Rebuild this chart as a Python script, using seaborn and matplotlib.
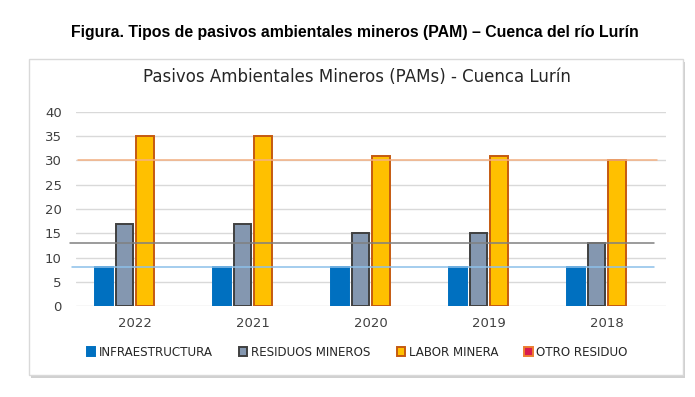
import matplotlib
matplotlib.use("Agg")
import matplotlib.pyplot as plt
from matplotlib.patches import Rectangle
import pandas as pd
import seaborn as sns

years = ["2022", "2021", "2020", "2019", "2018"]
infraestructura = [8, 8, 8, 8, 8]
residuos_mineros = [17, 17, 15, 15, 13]
labor_minera = [35, 35, 31, 31, 30]
otro_residuo = [0, 0, 0, 0, 0]
series_names = ["INFRAESTRUCTURA", "RESIDUOS MINEROS", "LABOR MINERA", "OTRO RESIDUO"]
ref_lines = [30, 13, 8]
yticks = [0, 5, 10, 15, 20, 25, 30, 35, 40]

fill_colors = ["#0070C0", "#8497B0", "#FFC000", "#D81B4E"]
edge_colors = ["#0070C0", "#404040", "#C55A11", "#ED7D31"]

rows = []
for name, vals in zip(series_names, [infraestructura, residuos_mineros, labor_minera, otro_residuo]):
    for y, v in zip(years, vals):
        rows.append({"year": y, "serie": name, "valor": v})
df = pd.DataFrame(rows)

sns.set_style("white")
plt.rcParams["font.family"] = ["DejaVu Sans"]

fig = plt.figure(figsize=(6.95, 3.97), dpi=100)

# marco del grafico con sombra
fig.patches.append(Rectangle((0.0445, 0.049), 0.941, 0.796, transform=fig.transFigure,
                             facecolor="#D0D0D0", edgecolor="none", zorder=0))
fig.patches.append(Rectangle((0.0417, 0.0554), 0.941, 0.796, transform=fig.transFigure,
                             facecolor="white", edgecolor="#D9D9D9", lw=1, zorder=1))

ax = fig.add_axes([0.109, 0.229, 0.849, 0.489])
ax.set_facecolor("none")
ax.set_zorder(2)

sns.barplot(data=df, x="year", y="valor", hue="serie", hue_order=series_names,
            palette=fill_colors, saturation=1, width=0.7, gap=0.15, ax=ax, legend=False)

for cont, ec in zip(ax.containers, edge_colors):
    for bar in cont:
        bar.set_edgecolor(ec)
        bar.set_linewidth(1.4)
        bar.set_zorder(3)
        if bar.get_height() == 0:
            bar.set_visible(False)

ax.set_ylim(0, 40)
ax.set_xlim(-0.5, 4.5)
ax.set_yticks(yticks)
ax.yaxis.grid(True, color="#D9D9D9", lw=1)
ax.set_axisbelow(True)
for s in ax.spines.values():
    s.set_visible(False)
ax.tick_params(axis="both", length=0, labelsize=9.5, labelcolor="#404040")
ax.tick_params(axis="y", pad=10)
ax.tick_params(axis="x", pad=8)
ax.set_xlabel("")
ax.set_ylabel("")

# lineas de referencia
line_styles = [("#F4B183", 0.003, 0.985), ("#808080", -0.01, 0.98), ("#8CC0EA", -0.007, 0.98)]
for val, (c, x0, x1) in zip(ref_lines, line_styles):
    ax.axhline(val, xmin=x0, xmax=x1, color=c, lw=1.1, clip_on=False, zorder=4)

handles = [Rectangle((0, 0), 1, 1, facecolor=f, edgecolor=e, lw=1.4)
           for f, e in zip(fill_colors, edge_colors)]
fig.legend(handles, series_names, loc="center", bbox_to_anchor=(0.514, 0.113), ncol=4,
           frameon=False, fontsize=8.6, handlelength=0.7, handleheight=0.7,
           handletextpad=0.3, columnspacing=2.2, labelcolor="#262626")

fig.text(0.51, 0.919, "Figura. Tipos de pasivos ambientales mineros (PAM) – Cuenca del río Lurín",
         ha="center", va="center", fontsize=11.4, fontweight="bold", color="black",
         family=["Liberation Sans", "DejaVu Sans"])
fig.text(0.514, 0.806, "Pasivos Ambientales Mineros (PAMs) - Cuenca Lurín",
         ha="center", va="center", fontsize=12, color="#262626", zorder=5)

fig.savefig("out.png", dpi=100)
